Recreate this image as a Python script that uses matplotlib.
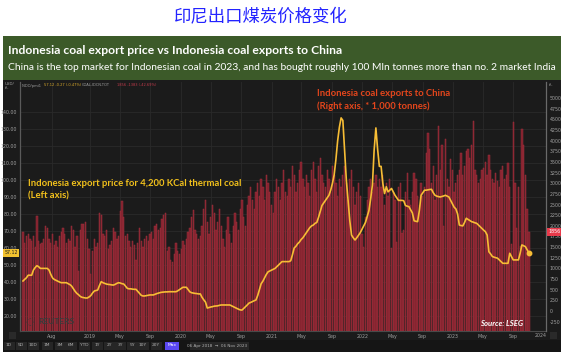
import matplotlib
matplotlib.use('Agg')
import matplotlib.pyplot as plt
import matplotlib.transforms as mtransforms
from matplotlib.patches import Rectangle
import numpy as np
import pandas as pd

# ---------------- data ----------------
start_date = '2018-04-06'   # weekly data, 06 Apr 2018 -> 03 Nov 2023

# Indonesia coal exports to China, '000 tonnes per week (right axis)
exports_china = [
    1860, 1600, 1750, 1800, 1700, 1650, 1750, 1500, 2220, 1650,
    1580, 1600, 1700, 2000, 1950, 1700, 1600, 1800, 1550, 1650,
    1500, 1750, 1850, 1950, 1800, 1600, 1700, 1650, 2000, 1900,
    1500, 1750, 950, 1900, 2050, 2050, 2100, 1700, 1450, 880,
    1400, 1700, 1500, 1600, 2300, 2250, 1800, 1750, 1900, 1450,
    1550, 1650, 1950, 1850, 1700, 1750, 2340, 2590, 2200, 1750,
    1800, 1650, 1500, 1650, 1550, 1200, 1600, 1950, 1650, 1500,
    1700, 1750, 1650, 1800, 1850, 1700, 2000, 2050, 1900, 1950,
    2150, 2250, 2300, 1400, 1500, 1200, 1150, 1350, 1600, 1400,
    1350, 1450, 1650, 1550, 1700, 1850, 1950, 2200, 2380, 1900,
    1800, 1700, 1750,
    2000, 2400, 2600, 2100, 1800, 2200, 2500, 2300, 1900, 2100,
    2400, 2000, 1700, 1500, 1900, 2200, 1800, 1600, 2000, 2300,
    2100, 1900, 2400, 2600, 2200, 2000, 2500, 2700, 2900, 2600,
    2400, 2800, 3000, 2700, 3100, 2900, 2600, 3200, 3000, 2800,
    2500, 2300, 2800, 3100, 2900, 2600, 3000, 3300, 2800, 2700,
    3100, 2900, 3400, 3200, 2800, 3000, 3300, 3500, 3100, 2900,
    3200, 3000, 2700, 3300, 3500, 3100, 2800, 3400, 3600, 3200,
    3000, 2900, 3300, 3100, 2800, 3400, 3200, 3000, 2700, 3100,
    2900, 3200, 3400, 3000, 2600, 3100, 3300, 2900, 2500, 2800,
    3000, 2700,
    1800, 1500, 2200, 2600, 2900, 3100, 2800, 3000, 3200, 2900,
    3100,
    2900, 3200, 2500, 3000, 2700, 3100, 1480, 2800, 2600, 1620,
    2900, 3000, 1830, 1900, 2800, 3240, 2600, 2500, 2800, 3240,
    3100, 2700, 2500, 3000, 2700, 2900, 3700, 4190, 3800, 3000,
    3400, 2600, 3200, 4350, 3300, 3900, 2000, 4030, 3100, 2900,
    3580, 3300, 2800, 3000, 3200, 3300, 3700, 3200, 3400, 3750,
    3800, 3600, 3890, 4470, 3300, 3200, 3000, 3100, 3300, 3350,
    3500, 3200, 3660, 3300, 3100, 3000, 3250, 3050, 2900, 3300,
    3400, 3100, 3200, 3480, 2900, 1570, 4440, 3000, 1940, 2900,
    1530, 4280, 3890, 3190, 2400, 1856,
]

# Indonesia export price, 4,200 KCal thermal coal, USD/t (left axis)
price_4200 = [
    40.6, 41.6, 42.5, 44.0, 44.0, 44.0, 47.0, 48.5, 49.6, 49.0,
    48.0, 48.0, 48.0, 48.0, 48.0, 47.0, 44.5, 42.4, 41.5, 41.0,
    40.5, 40.0, 39.6, 39.6, 39.6, 39.6, 39.0, 38.5, 37.6, 36.0,
    34.5, 33.3, 32.5, 31.5, 31.0, 30.8, 30.6, 30.6, 31.2, 32.0,
    33.5, 34.7, 35.0, 35.3, 38.0, 40.2, 39.6, 39.2, 38.8, 38.6,
    38.5, 38.3, 38.2, 38.6, 39.2, 39.6, 39.4, 39.0, 38.8, 37.5,
    36.3, 36.0, 36.0, 35.8, 35.7, 35.7, 34.5, 33.2, 32.2, 31.8,
    31.8, 32.0, 32.2, 32.4, 32.4, 32.4, 32.8, 33.2, 33.5, 33.8,
    34.0, 34.1, 34.2, 34.2, 34.3, 34.3, 34.3, 34.3, 34.3, 34.8,
    35.5, 36.2, 36.9, 36.9, 36.9, 35.5, 34.2, 33.7, 33.5, 33.3,
    33.2, 33.0, 33.0, 31.0, 29.5, 28.2, 24.7, 25.0, 25.3, 25.5,
    25.8, 25.9, 26.0, 26.3, 26.5, 26.5, 26.5, 26.5, 26.5, 26.5,
    26.0, 25.5, 25.0, 24.5, 24.0, 23.6, 23.5, 24.5, 25.5, 26.5,
    27.6, 28.0, 28.5, 29.0, 29.4, 32.0, 35.5, 39.0, 40.5, 42.5,
    44.5, 46.0, 46.5, 47.0, 47.5, 48.0, 49.0, 50.0, 51.0, 52.0,
    52.0, 52.0, 52.0, 52.0, 52.5, 56.0, 60.0, 61.0, 62.5, 63.5,
    65.0, 66.0, 67.5, 69.0, 70.5, 72.0, 73.0, 73.5, 74.5, 75.0,
    78.0, 81.5, 85.0, 86.5, 88.0, 89.5, 91.0, 94.0, 98.0, 103.0,
    112.0, 123.0, 131.0, 136.5, 135.0, 118.0, 100.0, 88.0, 76.0, 67.6,
    66.0, 64.7, 66.0, 67.5, 69.0, 71.0, 73.0, 75.0, 78.5, 82.0,
    89.0, 97.0, 117.6, 130.6, 118.0, 108.0, 108.0, 98.0, 92.0, 96.0,
    93.0, 94.0, 95.0, 93.0, 91.0, 89.5, 88.0, 88.0, 88.0, 87.8,
    85.0, 84.6, 84.3, 82.5, 80.6, 76.0, 75.7, 75.5, 82.0, 91.0,
    92.5, 94.0, 94.0, 94.2, 94.4, 94.5, 92.5, 91.0, 90.5, 90.2,
    90.0, 90.3, 90.6, 91.0, 90.5, 90.0, 88.0, 86.0, 84.0, 83.0,
    80.0, 73.5, 73.2, 73.0, 75.0, 77.5, 76.8, 76.2, 75.5, 75.2,
    74.8, 74.5, 73.5, 72.5, 71.5, 70.5, 69.6, 67.6, 57.8, 56.5,
    55.0, 54.6, 54.3, 54.0, 53.0, 52.0, 51.0, 51.0, 51.0, 51.0,
    56.9, 55.0, 53.0, 53.0, 53.0, 53.0, 57.0, 61.8, 61.3, 60.8,
    59.0, 57.12,
]

x_tick_dates = ['2018-08-01', '2019-01-01', '2019-05-01', '2019-09-01', '2020-01-01',
                '2020-05-01', '2020-09-01', '2021-01-01', '2021-05-01', '2021-09-01',
                '2022-01-01', '2022-05-01', '2022-09-01', '2023-01-01', '2023-05-01',
                '2023-09-01']
x_tick_labels = ['Aug', '2019', 'May', 'Sep', '2020', 'May', 'Sep', '2021', 'May', 'Sep',
                 '2022', 'May', 'Sep', '2023', 'May', 'Sep']
left_ticks = [20, 30, 40, 50, 60, 70, 80, 90, 100, 110, 120, 130, 140]
right_ticks = list(range(-250, 5001, 250))

price_change = '-0.27 (-0.47%)'
exports_change = '-1383 (-42.69%)'

# ---------------- figure ----------------
W, H = 564, 352
fig = plt.figure(figsize=(W / 100, H / 100), dpi=100)
fig.patch.set_facecolor('white')

def fx(px):
    return px / W

def fy(py):
    return 1 - py / H

def frect(x0, y0, x1, y1, color, z=-10):
    r = Rectangle((fx(x0), fy(y1)), (x1 - x0) / W, (y1 - y0) / H,
                  transform=fig.transFigure, facecolor=color, edgecolor='none', zorder=z)
    fig.patches.append(r)
    return r

DARK = '#1b1b1b'
frect(3, 36, 561, 80, '#3c5a29')
frect(3, 80, 561, 352, DARK)
frect(3, 340, 561, 352, '#151515', z=-9)

# Chinese header
fig.text(fx(261), fy(17), '印尼出口煤炭价格变化', ha='center', va='center',
         fontsize=12.5, color='#2323ff', family=['Noto Sans CJK SC', 'DejaVu Sans'])

# banner texts
fig.text(fx(8), fy(50), 'Indonesia coal export price vs Indonesia coal exports to China',
         ha='left', va='center', fontsize=8.75, color='white', fontweight='bold', family='Lato')
fig.text(fx(8), fy(67),
         'China is the top market for Indonesian coal in 2023, and has bought roughly 100 Mln tonnes more than no. 2 market India',
         ha='left', va='center', fontsize=7.4, color='white', family='Lato')

# ---------------- axes ----------------
ax = fig.add_axes([fx(20), fy(331), (546 - 20) / W, (331 - 82) / H])
ax.set_facecolor(DARK)
ax2 = ax.twinx()

dates = pd.date_range(start_date, periods=len(exports_china), freq='7D')
xmin, xmax = pd.Timestamp('2018-03-25'), pd.Timestamp('2024-01-11')

p_lo, p_hi = 11.2, 157.6
v_lo, v_hi = -469, 5376

ax.set_xlim(xmin, xmax)
ax.set_ylim(p_lo, p_hi)
ax2.set_ylim(v_lo, v_hi)

# grid (behind bars)
ax.set_yticks(left_ticks)
ax.set_yticklabels([f'{t:.2f}' for t in left_ticks])
ax.set_xticks(pd.to_datetime(x_tick_dates))
ax.set_xticklabels(x_tick_labels)
ax.grid(True, color='#2a2a2a', linewidth=0.6)
ax.set_axisbelow(True)

# bars from the bottom of the panel
vals = np.array(exports_china, dtype=float)
ax2.bar(dates, vals - v_lo, bottom=v_lo, width=5.2, color='#80202c',
        edgecolor='#a0323e', linewidth=0.35, zorder=2)

# price line drawn above bars using left-axis scale
ax2.plot(dates, price_4200, color='#f7bd35', linewidth=1.2, transform=ax.transData,
         zorder=4, solid_joinstyle='round')
ax2.plot(dates[-1:], price_4200[-1:], 'o', color='#f7bd35', markersize=3.2,
         transform=ax.transData, zorder=5)

ax2.set_yticks(right_ticks)
ax2.set_yticklabels([str(t) for t in right_ticks])
ax2.set_xlim(xmin, xmax)

for a in (ax, ax2):
    for s in a.spines.values():
        s.set_visible(False)
    a.tick_params(length=0, labelsize=3.4, colors='#a0a0a0')
ax.tick_params(axis='y', pad=2)
ax.tick_params(axis='x', pad=2.2)
ax2.tick_params(axis='y', pad=2.5)
ax.spines['left'].set_visible(True)
ax.spines['left'].set_color('#5a5a5a')
ax.spines['left'].set_linewidth(0.9)
ax.spines['bottom'].set_visible(True)
ax.spines['bottom'].set_color('#4a4a4a')
ax.spines['bottom'].set_linewidth(0.8)
ax2.spines['right'].set_visible(True)
ax2.spines['right'].set_color('#6a6a6a')
ax2.spines['right'].set_linewidth(0.9)

# last value highlight boxes
bt_l = mtransforms.blended_transform_factory(ax.transAxes, ax.transData)
ax.text(-0.004, price_4200[-1], f'{price_4200[-1]:.2f}', transform=bt_l, ha='right', va='center',
        fontsize=3.4, color='#202020',
        bbox=dict(boxstyle='square,pad=0.25', facecolor='#f2c230', edgecolor='none'), clip_on=False)
bt_r = mtransforms.blended_transform_factory(ax2.transAxes, ax2.transData)
ax2.text(1.004, exports_china[-1], f'{exports_china[-1]}', transform=bt_r, ha='left', va='center',
         fontsize=3.4, color='white',
         bbox=dict(boxstyle='square,pad=0.25', facecolor='#e8394a', edgecolor='none'), clip_on=False)

# header legend row inside the chart
fig.text(fx(22), fy(85.5), 'INDO/pmi1', fontsize=2.6, color='#a0a0a0', va='center')
fig.text(fx(44), fy(85.5), f'{price_4200[-1]:.2f} {price_change}', fontsize=2.6, color='#d9a92a', va='center')
fig.text(fx(82), fy(85.5), 'COAL-IDCN-TOT', fontsize=2.6, color='#a0a0a0', va='center')
fig.text(fx(117), fy(85.5), f'{exports_china[-1]} {exports_change}', fontsize=2.6, color='#c0394a', va='center')
fig.text(fx(5), fy(86), 'USD/\nt/-', fontsize=2.9, color='#a0a0a0', va='center', linespacing=1.3)
fig.text(fx(549), fy(85), 't/-', fontsize=2.9, color='#a0a0a0', va='center')

# annotations
ann_kw = dict(fontsize=6.8, fontweight='bold', va='center', family='Lato')
fig.text(fx(317), fy(94), 'Indonesia coal exports to China', color='#e4461c', **ann_kw)
fig.text(fx(317), fy(106), '(Right axis, * 1,000 tonnes)', color='#e4461c', **ann_kw)
fig.text(fx(28), fy(183), 'Indonesia export price for 4,200 KCal thermal coal', color='#f2c11c', **ann_kw)
fig.text(fx(28), fy(196), '(Left axis)', color='#f2c11c', **ann_kw)
fig.text(fx(523), fy(324), 'Source: LSEG', fontsize=5.6, color='white', fontweight='bold',
         fontstyle='italic', ha='right', va='center', family='Lato', zorder=10)

# Reuters watermark
fig.text(fx(38), fy(322), 'REUTERS', fontsize=6.0, color='#3a3a3a', fontweight='bold',
         va='center', family='Lato', zorder=10)
fig.text(fx(30), fy(322), '\u25CC', fontsize=7, color='#3a3a3a', ha='center', va='center', zorder=10)

# toolbar
tb_labels = ['1D', '5D', '10D', '1M', '3M', '6M', 'YTD', '1Y', '2Y', '3Y', '5Y', '10Y', '20Y', 'Max']
tb_x = [9, 21, 33, 47, 60, 71, 84, 97, 109, 120, 132, 143, 156, 172]
for lab, xp in zip(tb_labels, tb_x):
    if lab == 'Max':
        frect(xp - 7, 341.5, xp + 7, 349.5, '#5a48f2', z=1)
        fig.text(fx(xp), fy(345.5), lab, fontsize=3.2, color='white', ha='center', va='center', zorder=3)
    else:
        frect(xp - 5.5, 341.5, xp + 5.5, 349.5, '#262626', z=1)
        fig.text(fx(xp), fy(345.5), lab, fontsize=3.2, color='#b0b0b0', ha='center', va='center', zorder=3)
frect(190, 341.5, 249, 349.5, '#262626', z=1)
fig.text(fx(217), fy(345.5), '06 Apr 2018  \u2192  06 Nov 2023', fontsize=3.0, color='#b0b0b0',
         ha='center', va='center', zorder=3)
frect(9, 332, 16, 339, '#2a2a2a', z=1)
frect(550, 332, 557, 339, '#2a2a2a', z=1)
fig.text(fx(541), fy(335.5), '2024', fontsize=3.4, color='#a0a0a0', ha='center', va='center')

fig.savefig('out.png', dpi=100, facecolor=fig.get_facecolor())
